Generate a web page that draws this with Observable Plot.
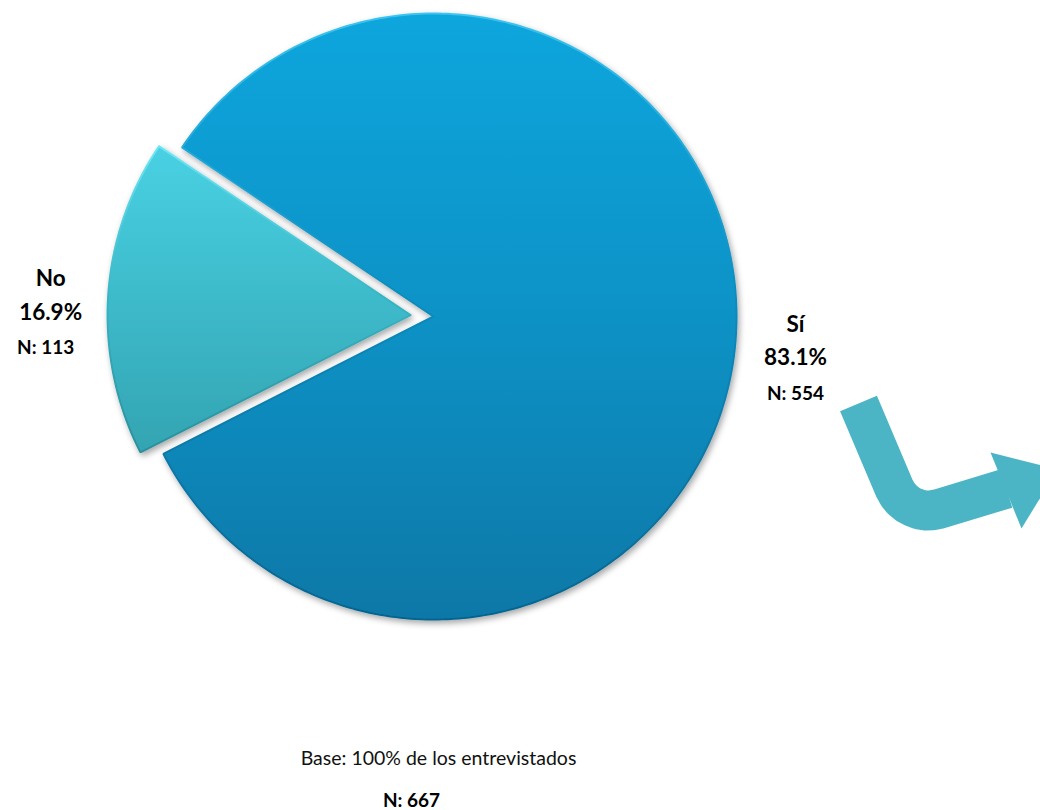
<!DOCTYPE html>
<html><head><meta charset="utf-8">
<script src="https://cdn.jsdelivr.net/npm/d3@7"></script>
<script src="https://cdn.jsdelivr.net/npm/@observablehq/plot@0.6"></script>
<style>body{margin:0;background:#fff;}</style>
</head><body><div id="chart"></div>
<script>
// ---- data ----
const categories = ["Sí", "No"];
const percents = [83.1, 16.9];
const counts = [554, 113];
const baseText = "Base: 100% de los entrevistados";
const totalN = 667;

// decorative curved arrow (chart pixel units)
const arrowShaft = [[858,403],[893.8,487.5],[897.2,493.7],[901.3,498.7],[906.7,503.3],[912.3,506.5],
  [918.9,508.9],[925.3,509.9],[932.4,509.7],[938.7,508.4],[1006,488]];
const arrowHead = [[990,452],[1057,469],[1021,528]];

// ---- layout ----
const W = 1040, H = 810;
const C = [433, 316], R = 303;
const explode = [0, 23];
const labelDist = [1.197, 1.266];
const lineOffsets = [-7, 26.5, 61];
const startDeg = -56.1;
const sliceFill = ["url(#gSi)", "url(#gNo)"];
const sliceStroke = ["url(#sSi)", "url(#sNo)"];

const rad = Math.PI / 180;
const pie = d3.pie().sort(null).value(d => d.pct)
  .startAngle(startDeg * rad).endAngle((startDeg + 360) * rad);
const rows = categories.map((c, i) => ({cat: c, pct: percents[i], n: counts[i], i}));
const arcs = pie(rows);

const slicePts = arcs.map((a, k) => {
  const mid = (a.startAngle + a.endAngle) / 2;
  const ox = Math.sin(mid) * explode[k], oy = -Math.cos(mid) * explode[k];
  const cx = C[0] + ox, cy = C[1] + oy;
  const pts = [{x: cx, y: cy}];
  const steps = Math.ceil((a.endAngle - a.startAngle) / rad);
  for (let s = 0; s <= steps; s++) {
    const t = a.startAngle + (a.endAngle - a.startAngle) * s / steps;
    pts.push({x: cx + R * Math.sin(t), y: cy - R * Math.cos(t)});
  }
  pts.push({x: cx, y: cy});
  return pts;
});

const labels = [];
arcs.forEach((a, k) => {
  const mid = (a.startAngle + a.endAngle) / 2;
  const lx = C[0] + Math.sin(mid) * R * labelDist[k];
  const ly = C[1] - Math.cos(mid) * R * labelDist[k];
  const d = a.data;
  labels.push({x: lx, y: ly + lineOffsets[0], t: d.cat, big: true});
  labels.push({x: lx, y: ly + lineOffsets[1], t: d.pct.toFixed(1) + "%", big: true});
  labels.push({x: lx - (k === 1 ? 5 : 0), y: ly + lineOffsets[2], t: "N: " + d.n, big: false});
});

const footer = [
  {x: 438, y: 764, t: baseText, bold: false},
  {x: 411, y: 806, t: "N: " + totalN, bold: true}
];

const marks = [];
slicePts.forEach((pts, k) => {
  marks.push(Plot.line(pts, {x: "x", y: "y", fill: sliceFill[k], stroke: sliceStroke[k],
    strokeWidth: 2, curve: "linear", strokeLinejoin: "miter", ariaDescription: "slice"}));
});
marks.push(Plot.line(arrowShaft, {x: d => d[0], y: d => d[1], stroke: "#4bb5c5", strokeWidth: 40,
  curve: "linear", strokeLinecap: "butt", strokeLinejoin: "round"}));
marks.push(Plot.line(arrowHead, {x: d => d[0], y: d => d[1], fill: "#4bb5c5", stroke: "none"}));
marks.push(Plot.text(labels.filter(d => d.big), {x: "x", y: "y", text: "t", fontSize: 22.5,
  fontWeight: "bold", fill: "#000", textAnchor: "middle", lineAnchor: "bottom"}));
marks.push(Plot.text(labels.filter(d => !d.big), {x: "x", y: "y", text: "t", fontSize: 19,
  fontWeight: "bold", fill: "#000", textAnchor: "middle", lineAnchor: "bottom"}));
marks.push(Plot.text(footer.filter(d => !d.bold), {x: "x", y: "y", text: "t", fontSize: 19.5,
  fill: "#111", textAnchor: "middle", lineAnchor: "bottom"}));
marks.push(Plot.text(footer.filter(d => d.bold), {x: "x", y: "y", text: "t", fontSize: 19,
  fontWeight: "bold", fill: "#000", textAnchor: "middle", lineAnchor: "bottom"}));

const chart = Plot.plot({
  width: W, height: H, margin: 0,
  x: {domain: [0, W], range: [0, W], axis: null},
  y: {domain: [0, H], range: [0, H], axis: null},
  style: {fontFamily: "Lato, 'Open Sans', sans-serif", background: "#fff", overflow: "hidden"},
  marks
});

const defs = d3.select(chart).insert("defs", ":first-child");
function grad(id, stops) {
  const g = defs.append("linearGradient").attr("id", id)
    .attr("x1", 0).attr("y1", 0).attr("x2", 0).attr("y2", 1);
  stops.forEach(([o, c]) => g.append("stop").attr("offset", o).attr("stop-color", c));
}
grad("gSi", [[0, "#0aa6dd"], [0.5, "#0992c6"], [1, "#0878a7"]]);
grad("gNo", [[0, "#48d1e3"], [1, "#33a4b2"]]);
grad("sSi", [[0, "#3cc4f0"], [0.5, "#0a88ba"], [1, "#066590"]]);
grad("sNo", [[0, "#6fe6f5"], [0.5, "#37b4c3"], [1, "#2a8f9c"]]);
const f = defs.append("filter").attr("id", "shadow").attr("x", "-10%").attr("y", "-10%")
  .attr("width", "120%").attr("height", "120%");
f.append("feDropShadow").attr("dx", 2).attr("dy", 3).attr("stdDeviation", 3)
  .attr("flood-color", "#000").attr("flood-opacity", 0.35);
d3.select(chart).selectAll("g[aria-description=slice]").attr("filter", "url(#shadow)");

document.getElementById("chart").appendChild(chart);
</script>
</body></html>
